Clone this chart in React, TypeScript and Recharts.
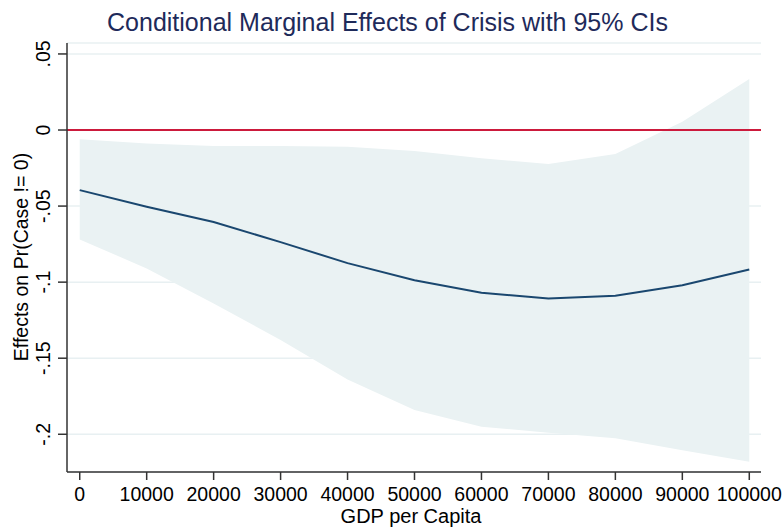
import React from 'react';
import { ComposedChart, Area, Line, XAxis, YAxis, CartesianGrid, ReferenceLine, Label } from 'recharts';

// GDP per capita grid points
const gdp = [0, 10000, 20000, 30000, 40000, 50000, 60000, 70000, 80000, 90000, 100000];
// marginal effect estimate
const effect = [-0.0395, -0.0505, -0.0605, -0.0737, -0.0875, -0.0987, -0.107, -0.1107, -0.109, -0.102, -0.0917];
// 95% CI bounds
const upper = [-0.0061, -0.0088, -0.0105, -0.0105, -0.011, -0.0138, -0.0186, -0.0224, -0.0158, 0.0055, 0.0335];
const lower = [-0.0719, -0.091, -0.114, -0.138, -0.164, -0.184, -0.195, -0.199, -0.2026, -0.2105, -0.218];

const xTicks = [0, 10000, 20000, 30000, 40000, 50000, 60000, 70000, 80000, 90000, 100000];
const yTicks = [-0.2, -0.15, -0.1, -0.05, 0, 0.05];

const data = gdp.map((g, i) => ({ gdp: g, effect: effect[i], ci: [lower[i], upper[i]] }));

const FONT = '"Liberation Sans", Arial, sans-serif';
const AXIS = '#333333';
const FS = 19.5;

// stata style: .05, -.1, 0
const fmtY = (v: number) => {
  if (v === 0) return '0';
  const s = String(+v.toFixed(2));
  return s.replace('0.', '.');
};

const YTick = (props: any) => {
  const { y, payload } = props;
  return (
    <text x={50} y={y} transform={`rotate(-90, 50, ${y})`} textAnchor="middle"
      fontSize={FS} fontFamily={FONT} fill="#000">
      {fmtY(payload.value)}
    </text>
  );
};

export default function App() {
  return (
    <div style={{ position: 'absolute', left: 0, top: 0, width: 784, height: 527, background: '#fff', fontFamily: FONT }}>
      <div style={{ position: 'absolute', top: 10, left: 0, width: 775, textAlign: 'center', fontSize: 25, lineHeight: '25px', color: '#1e2a5a' }}>
        Conditional Marginal Effects of Crisis with 95% CIs
      </div>
      <ComposedChart width={784} height={527} data={data} margin={{ top: 43, right: 23, bottom: 0, left: 0 }}>
        <CartesianGrid horizontal vertical={false} stroke="#e8f0f2" strokeWidth={1.5} />
        <XAxis dataKey="gdp" type="number" domain={[-1900, 101750]} ticks={xTicks} allowDataOverflow
          height={55} tickSize={8} stroke={AXIS} strokeWidth={1.5}
          tick={{ fontSize: FS, fontFamily: FONT, fill: '#000', dy: 5 }} interval={0}>
          <Label value="GDP per Capita" position="insideBottom" offset={4} fontSize={20} fontFamily={FONT} fill="#000" dx={-3} />
        </XAxis>
        <YAxis type="number" domain={[-0.2248, 0.0572]} ticks={yTicks} allowDataOverflow
          width={67} tickSize={9} stroke={AXIS} strokeWidth={1.5} tick={<YTick />} interval={0}>
          <Label content={() => (
            <text x={28} y={257} transform="rotate(-90, 28, 257)" textAnchor="middle" fontSize={FS} fontFamily={FONT} fill="#000">
              Effects on Pr(Case != 0)
            </text>
          )} />
        </YAxis>
        <Area dataKey="ci" type="linear" stroke="none" fill="#eaf2f3" fillOpacity={1} isAnimationActive={false} />
        <ReferenceLine y={0} stroke="#cc1a3c" strokeWidth={2} />
        <Line dataKey="effect" type="linear" stroke="#1a476f" strokeWidth={2} dot={false} isAnimationActive={false} />
      </ComposedChart>
    </div>
  );
}
